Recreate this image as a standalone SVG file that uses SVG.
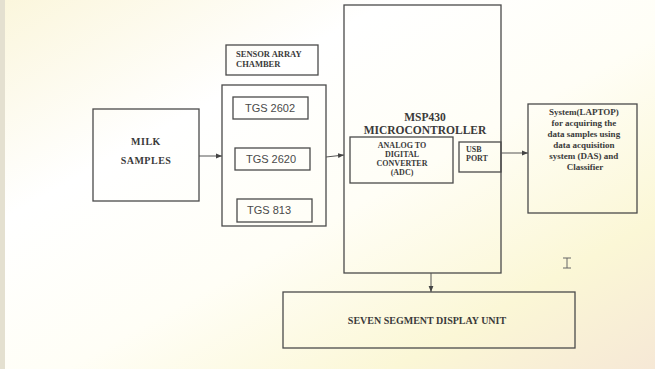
<svg xmlns="http://www.w3.org/2000/svg" width="655" height="369" viewBox="0 0 655 369">
<defs>
<linearGradient id="bg" x1="0" y1="0" x2="1" y2="1">
<stop offset="0" stop-color="#fbf6dc"/>
<stop offset="0.3" stop-color="#ffffff"/>
<stop offset="0.55" stop-color="#fffef6"/>
<stop offset="0.8" stop-color="#fbf7d6"/>
<stop offset="1" stop-color="#f6e8d6"/>
</linearGradient>
<marker id="ah" viewBox="0 0 10 10" refX="10" refY="5" markerWidth="6" markerHeight="6" markerUnits="userSpaceOnUse" orient="auto">
<path d="M0,1 L10,5 L0,9 Z" fill="#444"/>
</marker>
<style>
.box{fill:none;stroke:#4a4a4a;stroke-width:1.3}
.con{fill:none;stroke:#555;stroke-width:1;marker-end:url(#ah)}
.sb{font-family:"Liberation Serif","Times New Roman",serif;font-weight:bold;fill:#3a3a3a}
.ss{font-family:"Liberation Sans",Arial,sans-serif;fill:#4a4a4a;font-size:11px}
</style>
</defs>
<rect x="0" y="0" width="655" height="369" fill="url(#bg)"/>
<rect x="0" y="0" width="5" height="369" fill="#e4e0d0"/>

<g id="milk">
<rect class="box" x="93" y="109" width="106" height="92"/>
<text class="sb" x="146" y="145" font-size="10" text-anchor="middle" letter-spacing="0.5">MILK</text>
<text class="sb" x="146" y="164" font-size="10" text-anchor="middle" letter-spacing="0.5">SAMPLES</text>
</g>

<g id="chamber-label">
<rect class="box" x="226" y="45" width="92" height="30"/>
<text class="sb" x="236" y="57" font-size="8.5">SENSOR ARRAY</text>
<text class="sb" x="236" y="67" font-size="8.5">CHAMBER</text>
</g>

<g id="sensor-chamber">
<rect class="box" x="222" y="85" width="104" height="141"/>
<g id="tgs2602">
<rect class="box" x="233" y="97" width="75" height="22"/>
<text class="ss" x="270" y="112" text-anchor="middle">TGS 2602</text>
</g>
<g id="tgs2620">
<rect class="box" x="235" y="148" width="75" height="22"/>
<text class="ss" x="271" y="163" text-anchor="middle">TGS 2620</text>
</g>
<g id="tgs813">
<rect class="box" x="237" y="199" width="75" height="23"/>
<text class="ss" x="269" y="214" text-anchor="middle">TGS 813</text>
</g>
</g>

<g id="mcu">
<rect class="box" x="344" y="5" width="157" height="268"/>
<text class="sb" x="425" y="121" font-size="11.5" text-anchor="middle">MSP430</text>
<text class="sb" x="425" y="134" font-size="11.5" text-anchor="middle">MICROCONTROLLER</text>
<g id="adc">
<rect class="box" x="350" y="137" width="103" height="46"/>
<text class="sb" x="402" y="148" font-size="8" text-anchor="middle">ANALOG TO</text>
<text class="sb" x="402" y="157" font-size="8" text-anchor="middle">DIGITAL</text>
<text class="sb" x="402" y="166" font-size="8" text-anchor="middle">CONVERTER</text>
<text class="sb" x="402" y="175" font-size="8" text-anchor="middle">(ADC)</text>
</g>
<g id="usb">
<rect class="box" x="459" y="142" width="42" height="30"/>
<text class="sb" x="466" y="152" font-size="8">USB</text>
<text class="sb" x="466" y="161" font-size="8">PORT</text>
</g>
</g>

<g id="laptop">
<rect class="box" x="528" y="104" width="109" height="109"/>
<text class="sb" font-size="9" text-anchor="middle">
<tspan x="585" y="115">System(LAPTOP)</tspan>
<tspan x="585" y="126">for acquiring the</tspan>
<tspan x="585" y="137">data samples using</tspan>
<tspan x="585" y="148">data acquisition</tspan>
<tspan x="585" y="159">system (DAS) and</tspan>
<tspan x="585" y="170">Classifier</tspan>
</text>
</g>

<g id="display">
<rect class="box" x="283" y="292" width="292" height="56"/>
<text class="sb" x="427" y="324" font-size="10" text-anchor="middle">SEVEN SEGMENT DISPLAY UNIT</text>
</g>

<g id="connectors">
<line class="con" x1="199" y1="156" x2="222" y2="156"/>
<line class="con" x1="326" y1="157" x2="344" y2="155"/>
<line class="con" x1="501" y1="153" x2="528" y2="153"/>
<line class="con" x1="431" y1="273" x2="431" y2="292"/>
</g>

<path d="M563,258 h8 M567,258 v10 M563,268 h8" stroke="#666" stroke-width="1" fill="none"/>
</svg>
